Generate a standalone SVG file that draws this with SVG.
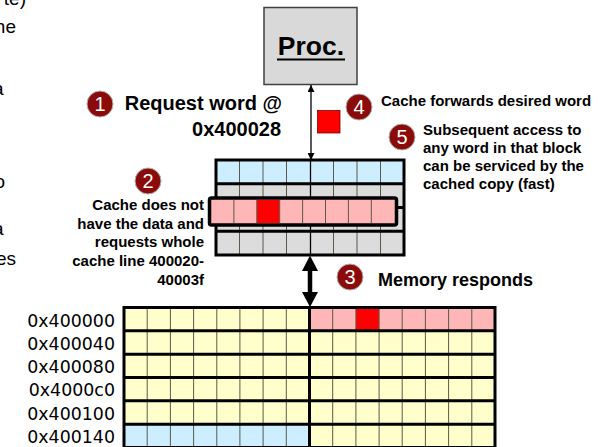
<svg xmlns="http://www.w3.org/2000/svg" width="615" height="447" viewBox="0 0 615 447">
  <style>
    .lbl { font-family: "Liberation Sans", Arial, sans-serif; font-weight: bold; fill: #000; }
    .addr { font-family: "DejaVu Sans", sans-serif; font-size: 17.4px; fill: #000; text-anchor: end; }
    .frag { font-family: "Liberation Sans", Arial, sans-serif; font-size: 19px; fill: #000; text-anchor: end; }
    .num { font-family: "Liberation Sans", Arial, sans-serif; font-size: 20px; fill: #fff; text-anchor: middle; }
    .badge { fill: #8b0a0a; stroke: #b0b0b0; stroke-width: 1; }
    .thin { stroke: #5a5a4a; stroke-width: 1; fill: none; }
    .thick { stroke: #000; stroke-width: 3; fill: none; }
    .yellow { fill: #ffffcc; }
    .blue { fill: #cceeff; }
    .pink { fill: #ffb6b6; }
    .gray { fill: #dcdcdc; }
    .red { fill: #ff0000; }
  </style>
  <defs>
    <marker id="tip" viewBox="0 0 10 10" refX="10" refY="5" markerWidth="7" markerHeight="7" markerUnits="userSpaceOnUse" orient="auto-start-reverse">
      <path d="M0,0 L10,5 L0,10 Z" fill="#000"/>
    </marker>
  </defs>

  <!-- clipped fragments of body text at the left edge -->
  <g id="side-text">
    <text class="frag" x="26" y="5">te)</text>
    <text class="frag" x="16" y="33">he</text>
    <text class="frag" x="3.5" y="95">a</text>
    <text class="frag" x="5" y="188">o</text>
    <text class="frag" x="3.5" y="235">a</text>
    <text class="frag" x="16" y="265">es</text>
  </g>

  <!-- processor -->
  <g id="proc">
    <rect x="264" y="7.5" width="93" height="77" fill="#d9d9d9" stroke="#404040" stroke-width="1.5"/>
    <text class="lbl" x="311" y="55" font-size="26.5" text-anchor="middle">Proc.</text>
    <line x1="277" y1="59.5" x2="345" y2="59.5" stroke="#000" stroke-width="2"/>
  </g>

  <!-- cache: four lines of eight words -->
  <g id="cache">
    <rect class="blue" x="216" y="160" width="188" height="23.75"/>
    <rect class="gray" x="216" y="183.75" width="188" height="71.25"/>
    <path class="thin" d="M239.5,160V255 M263,160V255 M286.5,160V255 M333.5,160V255 M357,160V255 M380.5,160V255"/>
    <line x1="310.5" y1="160" x2="310.5" y2="255" stroke="#000" stroke-width="1.3"/>
    <path class="thick" d="M216,183.75H404 M216,207.5H404 M216,231.25H404"/>
    <rect class="thick" x="216" y="160" width="188" height="95"/>
    <!-- line being filled -->
    <rect class="pink" x="209.5" y="198" width="187" height="27" rx="2" stroke="#000" stroke-width="3.5"/>
    <rect class="red" x="256.8" y="200" width="22.9" height="23"/>
    <path class="thin" d="M233.9,200V223 M256.8,200V223 M279.7,200V223 M302.6,200V223 M325.5,200V223 M348.4,200V223 M371.3,200V223"/>
  </g>

  <!-- memory: six lines, sixteen words each -->
  <g id="memory">
    <rect class="yellow" x="124" y="307.5" width="371" height="140"/>
    <rect class="pink" x="309.5" y="307.5" width="185.5" height="23.3"/>
    <rect class="red" x="355.9" y="307.5" width="23.2" height="23.3"/>
    <rect class="blue" x="124" y="424.2" width="185.5" height="23.3"/>
    <path class="thin" d="M147.2,307.5V447 M170.4,307.5V447 M193.6,307.5V447 M216.8,307.5V447 M239.9,307.5V447 M263.1,307.5V447 M286.3,307.5V447 M332.7,307.5V447 M355.9,307.5V447 M379.1,307.5V447 M402.2,307.5V447 M425.4,307.5V447 M448.6,307.5V447 M471.8,307.5V447"/>
    <path class="thick" d="M124,330.8H495 M124,354.2H495 M124,377.5H495 M124,400.8H495 M124,424.2H495 M309.5,307.5V447"/>
    <rect class="thick" x="124" y="307.5" width="371" height="140"/>
    <text class="addr" x="115" y="326.5">0x400000</text>
    <text class="addr" x="115" y="349.8">0x400040</text>
    <text class="addr" x="115" y="373.1">0x400080</text>
    <text class="addr" x="115" y="396.4">0x4000c0</text>
    <text class="addr" x="115" y="419.7">0x400100</text>
    <text class="addr" x="115" y="443">0x400140</text>
  </g>

  <!-- connectors -->
  <g id="connectors">
    <line x1="311" y1="85" x2="311" y2="160" stroke="#000" stroke-width="1.3" marker-start="url(#tip)" marker-end="url(#tip)"/>
    <line x1="310" y1="268" x2="310" y2="295" stroke="#000" stroke-width="4.5"/>
    <path d="M310,255.5 L318,271 L302,271 Z" fill="#000"/>
    <path d="M310,307 L318,292 L302,292 Z" fill="#000"/>
  </g>

  <!-- word forwarded to the processor -->
  <g id="word">
    <rect class="red" x="317.5" y="110.5" width="22.5" height="22.5" stroke="#7a0000" stroke-width="0.8"/>
  </g>

  <!-- numbered steps -->
  <g id="step1">
    <circle class="badge" cx="100" cy="104" r="13"/>
    <text class="num" x="100" y="111">1</text>
    <text class="lbl" x="282" y="110" font-size="20" text-anchor="end">Request word @</text>
    <text class="lbl" x="281" y="135.5" font-size="20" text-anchor="end">0x400028</text>
  </g>
  <g id="step2">
    <circle class="badge" cx="148" cy="181" r="13"/>
    <text class="num" x="148" y="188">2</text>
    <g class="lbl" font-size="15" text-anchor="end">
      <text x="204" y="210">Cache does not</text>
      <text x="204" y="228.7">have the data and</text>
      <text x="204" y="247.4">requests whole</text>
      <text x="204" y="266.1">cache line 400020-</text>
      <text x="204" y="284.8">40003f</text>
    </g>
  </g>
  <g id="step3">
    <circle class="badge" cx="350" cy="277" r="13"/>
    <text class="num" x="350" y="284">3</text>
    <text class="lbl" x="378" y="286" font-size="18">Memory responds</text>
  </g>
  <g id="step4">
    <circle class="badge" cx="359" cy="107" r="13"/>
    <text class="num" x="359" y="114">4</text>
    <text class="lbl" x="381" y="106" font-size="15">Cache forwards desired word</text>
  </g>
  <g id="step5">
    <circle class="badge" cx="402" cy="137" r="13"/>
    <text class="num" x="402" y="144">5</text>
    <g class="lbl" font-size="15">
      <text x="423" y="135">Subsequent access to</text>
      <text x="423" y="153">any word in that block</text>
      <text x="423" y="171">can be serviced by the</text>
      <text x="423" y="189">cached copy (fast)</text>
    </g>
  </g>
</svg>
